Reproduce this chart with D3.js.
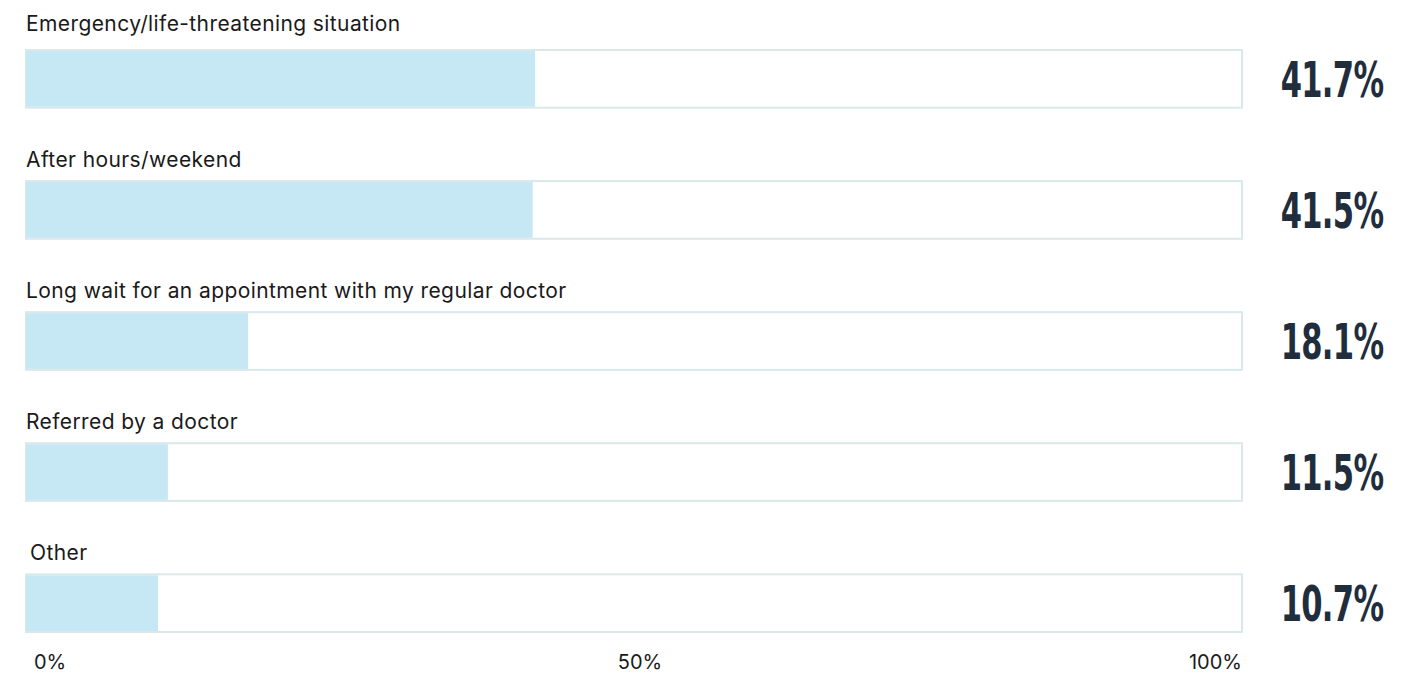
<!DOCTYPE html>
<html>
<head>
<meta charset="utf-8">
<script src="https://cdn.jsdelivr.net/npm/d3@7"></script>
<style>
  html, body { margin: 0; padding: 0; background: #ffffff; }
  svg { display: block; }
</style>
</head>
<body>
<svg id="chart" width="1424" height="673"></svg>
<script>
const categories = [
  "Emergency/life-threatening situation",
  "After hours/weekend",
  "Long wait for an appointment with my regular doctor",
  "Referred by a doctor",
  "Other"
];
const values = [41.7, 41.5, 18.1, 11.5, 10.7];
const tickValues = [0, 50, 100];
const tickLabels = ["0%", "50%", "100%"];

const svg = d3.select("#chart");
const left = 26, right = 1242;

const x = d3.scaleLinear().domain([0, 100]).range([left, right]);
const y = d3.scaleBand().domain(categories).range([50, 632]).paddingInner(0.56).paddingOuter(0);

const g = svg.append("g");
const rows = g.selectAll("g.row").data(categories).join("g").attr("class", "row");

rows.append("rect")
  .attr("x", x(0))
  .attr("y", d => y(d))
  .attr("width", x(100) - x(0))
  .attr("height", y.bandwidth())
  .attr("fill", "#ffffff")
  .attr("stroke", "#dbe8ea")
  .attr("stroke-width", 2);

rows.append("rect")
  .attr("x", x(0))
  .attr("y", d => y(d) + 1)
  .attr("width", (d, i) => x(values[i]) - x(0) + 2)
  .attr("height", y.bandwidth() - 2)
  .attr("fill", "#c5e8f4");

rows.append("text")
  .attr("x", (d, i) => i === categories.length - 1 ? x(0) + 4 : x(0))
  .attr("y", (d, i) => y(d) - (i === 0 ? 19 : 14))
  .attr("font-family", "Inter, 'Open Sans', sans-serif")
  .attr("font-size", 21)
  .attr("letter-spacing", 0.4)
  .attr("fill", "#1a1a1a")
  .text(d => d);

const vx = 1332;
rows.append("text")
  .attr("x", vx)
  .attr("y", d => y(d) + y.bandwidth() / 2)
  .attr("dy", "0.36em")
  .attr("text-anchor", "middle")
  .attr("font-family", "'DejaVu Sans Condensed', 'Liberation Sans Narrow', sans-serif")
  .attr("font-weight", "bold")
  .attr("font-size", 50)
  .attr("fill", "#1f2d3d")
  .attr("transform", d => `translate(${vx}, 0) scale(0.68, 1) translate(${-vx}, 0)`)
  .attr("letter-spacing", -1)
  .text((d, i) => values[i].toFixed(1) + "%");

const axisG = g.append("g");
axisG.selectAll("text").data(tickValues).join("text")
  .attr("x", (d, i) => i === 0 ? x(d) + 8 : (i === tickValues.length - 1 ? x(d) : x(d) + 6))
  .attr("y", 669)
  .attr("text-anchor", (d, i) => i === 0 ? "start" : (i === tickValues.length - 1 ? "end" : "middle"))
  .attr("font-family", "Inter, 'Open Sans', sans-serif")
  .attr("font-size", 20)
  .attr("fill", "#1a1a1a")
  .text((d, i) => tickLabels[i]);
</script>
</body>
</html>
